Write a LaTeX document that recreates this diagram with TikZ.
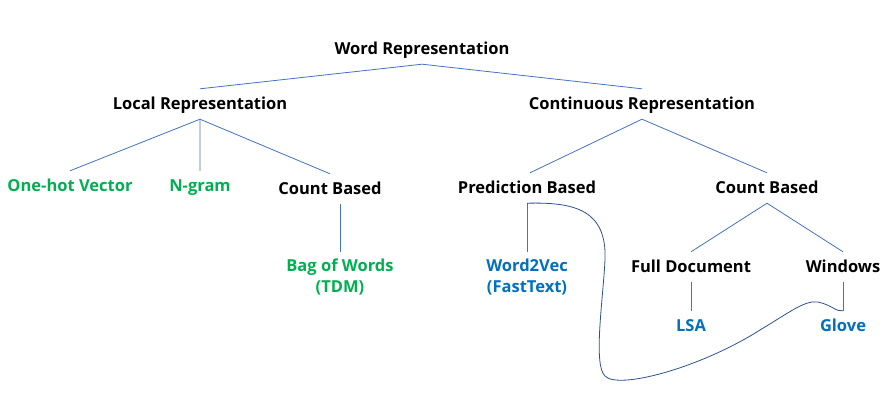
\documentclass[tikz,border=0pt]{standalone}
\usepackage{fontspec}
\setmainfont{Open Sans}
\usepackage{xcolor}
\usepackage{tikz}
\definecolor{leafgreen}{RGB}{0,176,80}
\definecolor{leafblue}{RGB}{0,112,192}
\definecolor{edgeblue}{RGB}{68,114,196}
\definecolor{curveblue}{RGB}{47,82,143}

\begin{document}
\begin{tikzpicture}[x=1pt,y=-1pt,
  term/.style={font=\fontsize{16.5}{21}\selectfont\bfseries, inner xsep=2pt, inner ysep=7pt, text height=13.5pt, text depth=2.5pt},
  twoline/.style={font=\fontsize{16.5}{21}\selectfont\bfseries, inner xsep=2pt, inner ysep=7pt, align=center},
  edge/.style={draw=edgeblue, line width=0.8pt}]
\fill[white] (0,0) rectangle (894,407);
\useasboundingbox (0,0) rectangle (894,407);
% top levels
\node[term] (wr) at (422,49) {Word Representation};
\node[term] (lr) at (200,104) {Local Representation};
\node[term] (cr) at (642,104) {Continuous Representation};
% local side
\node[term, leafgreen] (oh) at (70,186) {One-hot Vector};
\node[term, leafgreen] (ng) at (200,186) {N-gram};
\node[term] (cbl) at (330,189) {Count Based};
\node[twoline, leafgreen] (bow) at (340,277) {Bag of Words\\(TDM)};
% continuous side
\node[term] (pb) at (527,188) {Prediction Based};
\node[term] (cbr) at (767,188) {Count Based};
\node[twoline, leafblue] (wv) at (527,277) {Word2Vec\\(FastText)};
\node[term] (fd) at (691,267) {Full Document};
\node[term] (win) at (843,267) {Windows};
\node[term, leafblue] (lsa) at (691,326) {LSA};
\node[term, leafblue] (glv) at (843,326) {Glove};
% tree lines
\draw[edge] (lr.north) -- (wr.south) -- (cr.north);
\draw[edge] (oh.north) -- (lr.south) -- (ng.north);
\draw[edge] (lr.south) -- (cbl.north);
\draw[edge] (bow.north |- cbl.south) -- (bow.north);
\draw[edge] ([xshift=3pt]pb.north) -- (cr.south) -- (cbr.north);
\draw[edge] (pb.south) -- (wv.north);
\draw[edge] (fd.north) -- (cbr.south) -- (win.north);
\draw[edge] (fd.south) -- (lsa.north);
\draw[edge] (win.south) -- (glv.north);
% free curve
\draw[curveblue, line width=0.8pt] (pb.south) .. controls (575,202) and (607,210) .. (605,260)
  .. controls (603,300) and (593,365) .. (605,376)
  .. controls (618,390) and (700,368) .. (760,330)
  .. controls (790,312) and (805,300) .. (818,302)
  .. controls (832,305) and (836,312) .. (glv.north);
\end{tikzpicture}
\end{document}
